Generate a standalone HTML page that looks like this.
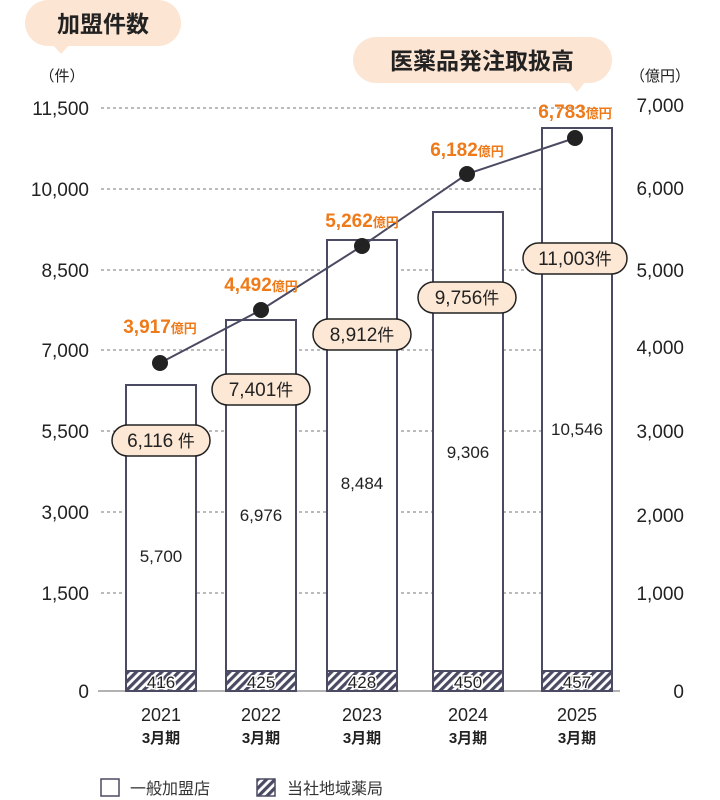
<!DOCTYPE html>
<html><head><meta charset="utf-8"><style>
html,body{margin:0;padding:0;background:#fff;}
svg{display:block;font-family:"Liberation Sans","Noto Sans CJK JP",sans-serif;}
</style></head><body>
<svg width="720" height="800" viewBox="0 0 720 800" xmlns="http://www.w3.org/2000/svg">
<defs>
<pattern id="h" width="6" height="6" patternUnits="userSpaceOnUse" patternTransform="rotate(45)">
<rect width="6" height="6" fill="#fff"/><rect width="3.2" height="6" fill="#4a4a62"/>
</pattern>
</defs>
<rect x="25" y="0" width="156" height="46" rx="23" fill="#fde5d3"/>
<polygon points="52,44 70,44 61,54" fill="#fde5d3"/>
<text x="103" y="32" font-size="23" font-weight="bold" fill="#222" text-anchor="middle">加盟件数</text>
<rect x="353" y="37" width="259" height="46" rx="23" fill="#fde5d3"/>
<polygon points="568,81 586,81 577,92" fill="#fde5d3"/>
<text x="482" y="69" font-size="23" font-weight="bold" fill="#222" text-anchor="middle">医薬品発注取扱高</text>
<text x="62" y="81" font-size="15" fill="#222" text-anchor="middle">（件）</text>
<text x="660" y="81" font-size="15" fill="#222" text-anchor="middle">（億円）</text>
<g stroke="#777" stroke-width="1" stroke-dasharray="3,3">
<line x1="101" y1="108" x2="612" y2="108"/>
<line x1="101" y1="189" x2="612" y2="189"/>
<line x1="101" y1="270" x2="612" y2="270"/>
<line x1="101" y1="350" x2="612" y2="350"/>
<line x1="101" y1="431" x2="612" y2="431"/>
<line x1="101" y1="512" x2="612" y2="512"/>
<line x1="101" y1="593" x2="612" y2="593"/>
</g>
<line x1="98" y1="691" x2="620" y2="691" stroke="#999" stroke-width="1.5"/>
<g font-size="19" fill="#222" text-anchor="end">
<text x="89" y="115">11,500</text><text x="89" y="196">10,000</text>
<text x="89" y="277">8,500</text><text x="89" y="357">7,000</text>
<text x="89" y="438">5,500</text><text x="89" y="519">3,000</text>
<text x="89" y="600">1,500</text><text x="89" y="698">0</text>
</g>
<g font-size="19" fill="#222" text-anchor="end">
<text x="684" y="112">7,000</text><text x="684" y="195">6,000</text>
<text x="684" y="277">5,000</text><text x="684" y="354">4,000</text>
<text x="684" y="438">3,000</text><text x="684" y="522">2,000</text>
<text x="684" y="600">1,000</text><text x="684" y="698">0</text>
</g>
<g stroke="#4a4a62" stroke-width="2" fill="#fff">
<rect x="126" y="385" width="70" height="306"/>
<rect x="226" y="320" width="70" height="371"/>
<rect x="327" y="240" width="70" height="451"/>
<rect x="433" y="212" width="70" height="479"/>
<rect x="542" y="128" width="70" height="563"/>
</g>
<g stroke="#4a4a62" stroke-width="2" fill="url(#h)">
<rect x="126" y="671" width="70" height="20"/>
<rect x="226" y="671" width="70" height="20"/>
<rect x="327" y="671" width="70" height="20"/>
<rect x="433" y="671" width="70" height="20"/>
<rect x="542" y="671" width="70" height="20"/>
</g>
<g font-size="17" fill="#222" text-anchor="middle" stroke="#fff" stroke-width="3" paint-order="stroke">
<text x="161" y="688">416</text><text x="261" y="688">425</text><text x="362" y="688">428</text><text x="468" y="688">450</text><text x="577" y="688">457</text>
</g>
<g font-size="17" fill="#222" text-anchor="middle">
<text x="161" y="562">5,700</text><text x="261" y="521">6,976</text><text x="362" y="489">8,484</text><text x="468" y="458">9,306</text><text x="577" y="435">10,546</text>
</g>
<polyline points="160,363 261,310 362,246 467,174 575,138" fill="none" stroke="#4a4a62" stroke-width="2"/>
<g fill="#222"><circle cx="160" cy="363" r="8"/><circle cx="261" cy="310" r="8"/><circle cx="362" cy="246" r="8"/><circle cx="467" cy="174" r="8"/><circle cx="575" cy="138" r="8"/></g>
<g font-size="19" font-weight="bold" fill="#ee7a1a" text-anchor="middle">
<text x="160" y="333">3,917<tspan font-size="13">億円</tspan></text>
<text x="261" y="291">4,492<tspan font-size="13">億円</tspan></text>
<text x="362" y="227">5,262<tspan font-size="13">億円</tspan></text>
<text x="467" y="156">6,182<tspan font-size="13">億円</tspan></text>
<text x="575" y="118">6,783<tspan font-size="13">億円</tspan></text>
</g>
<g stroke="#222" stroke-width="1.5" fill="#fde8d6">
<rect x="112" y="425" width="98" height="31" rx="15.5"/>
<rect x="212" y="374" width="98" height="31" rx="15.5"/>
<rect x="313" y="319" width="98" height="31" rx="15.5"/>
<rect x="418" y="282" width="98" height="31" rx="15.5"/>
<rect x="523" y="243" width="104" height="31" rx="15.5"/>
</g>
<g font-size="19" fill="#222" text-anchor="middle">
<text x="161" y="447">6,116<tspan font-size="17"> 件</tspan></text>
<text x="261" y="396">7,401<tspan font-size="17">件</tspan></text>
<text x="362" y="341">8,912<tspan font-size="17">件</tspan></text>
<text x="467" y="304">9,756<tspan font-size="17">件</tspan></text>
<text x="575" y="265">11,003<tspan font-size="17">件</tspan></text>
</g>
<g font-size="18" fill="#222" text-anchor="middle">
<text x="161" y="721">2021</text><text x="261" y="721">2022</text><text x="362" y="721">2023</text><text x="468" y="721">2024</text><text x="577" y="721">2025</text>
</g>
<g font-size="15" fill="#222" text-anchor="middle" font-weight="bold">
<text x="161" y="743">3月期</text><text x="261" y="743">3月期</text><text x="362" y="743">3月期</text><text x="468" y="743">3月期</text><text x="577" y="743">3月期</text>
</g>
<rect x="101" y="779" width="18" height="17" fill="#fff" stroke="#4a4a62" stroke-width="1.5"/>
<text x="130" y="794" font-size="16" fill="#333">一般加盟店</text>
<rect x="257" y="779" width="18" height="17" fill="url(#h)" stroke="#4a4a62" stroke-width="1.5"/>
<text x="287" y="794" font-size="16" fill="#333">当社地域薬局</text>
</svg>
</body></html>
